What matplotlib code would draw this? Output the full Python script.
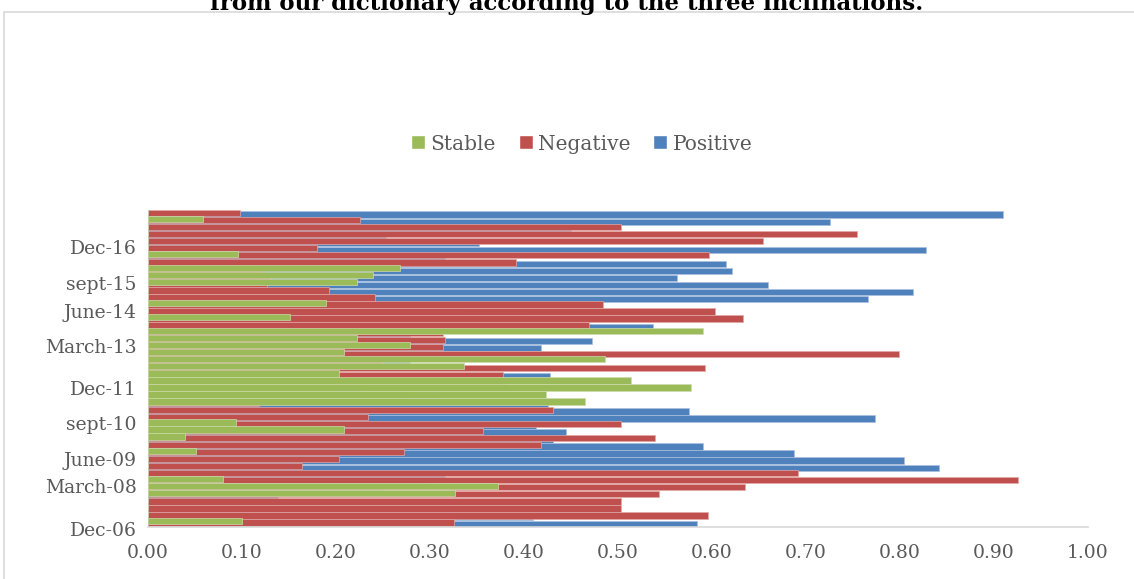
import matplotlib
matplotlib.use("Agg")
import matplotlib.pyplot as plt
import matplotlib.patches as mpatches
from matplotlib.lines import Line2D
import matplotlib.transforms as mtransforms
import numpy as np

plt.rcParams['font.family'] = ['DejaVu Serif']

stable = [0, 0.058, 0, 0, 0, 0, 0.096, 0, 0.268, 0.239,
          0.222, 0, 0, 0.189, 0, 0.151, 0, 0.590, 0.222, 0.279,
          0.209, 0.486, 0.336, 0.203, 0.514, 0.578, 0.423, 0.465, 0, 0,
          0.094, 0.209, 0.039, 0, 0.051, 0, 0, 0, 0.080, 0.372,
          0.327, 0, 0, 0, 0.100]
negative = [0.098, 0.225, 0.503, 0.754, 0.654, 0.180, 0.597, 0.392, 0.122, 0.130,
            0.127, 0.193, 0.241, 0.484, 0.603, 0.633, 0.469, 0.314, 0.316, 0.314,
            0.799, 0.250, 0.593, 0.378, 0.381, 0.200, 0.282, 0.118, 0.431, 0.234,
            0.503, 0.356, 0.539, 0.418, 0.272, 0.203, 0.164, 0.692, 0.925, 0.635,
            0.544, 0.503, 0.503, 0.596, 0.326]
positive = [0.910, 0.726, 0.450, 0.253, 0.352, 0.828, 0.316, 0.615, 0.621, 0.563,
            0.660, 0.814, 0.766, 0.336, 0.404, 0.225, 0.537, 0.279, 0.472, 0.418,
            0.200, 0.279, 0.200, 0.428, 0.200, 0.228, 0.305, 0.426, 0.575, 0.773,
            0.413, 0.445, 0.431, 0.590, 0.687, 0.804, 0.842, 0.316, 0.300, 0.250,
            0.138, 0.500, 0.500, 0.410, 0.584]

# every fifth quarter gets a label, from the bottom up
labels = ["Dec-06", "March-08", "June-09", "sept-10", "Dec-11",
          "March-13", "June-14", "sept-15", "Dec-16"]
label_pos = [-1.2, 4.9, 8.75, 13.9, 18.85, 24.8, 29.8, 33.8, 38.9]

xticks = [0.0, 0.1, 0.2, 0.3, 0.4, 0.5, 0.6, 0.7, 0.8, 0.9, 1.0]

green = "#9BBB59"
red = "#C0504D"
blue = "#4F81BD"

stable = np.array(stable[::-1])
negative = np.array(negative[::-1])
positive = np.array(positive[::-1])
y = np.arange(len(stable))

fig = plt.figure(figsize=(11.34, 5.79), dpi=100)
ax = fig.add_axes([148 / 1134, 52 / 579, 940 / 1134, 317 / 579])

h = 0.9
d = 0.21
ax.barh(y - d, positive, height=h, color=blue, edgecolor="#a9c0de", linewidth=0.5, zorder=1)
ax.barh(y, negative, height=h, color=red, edgecolor="#e2a9a7", linewidth=0.5, zorder=2)
ax.barh(y + d, stable, height=h, color=green, edgecolor="#cddcad", linewidth=0.5, zorder=3)

ax.set_xlim(0, 1.0)
ax.set_ylim(-0.65, 44.45)
ax.set_xticks(xticks)
ax.set_xticklabels(["%.2f" % v for v in xticks], fontsize=13.5, color="#595959")
ax.tick_params(axis="x", length=0, pad=12)
ax.set_yticks([])

trans = mtransforms.blended_transform_factory(ax.transAxes, ax.transData)
for lab, pos in zip(labels, label_pos):
    ax.text(-0.012, pos, lab, transform=trans, ha="right", va="center",
            fontsize=13.5, color="#595959", clip_on=False)

for s in ["top", "right", "left"]:
    ax.spines[s].set_visible(False)
ax.spines["bottom"].set_color("#d9d9d9")
ax.spines["bottom"].set_linewidth(1.2)

# outer chart frame
frame = mpatches.Rectangle((4 / 1134, -0.05), 1.2, 1 - 12 / 579 + 0.05,
                           transform=fig.transFigure, fill=False,
                           edgecolor="#d9d9d9", linewidth=1.2)
fig.patches.append(frame)

# title runs off the top edge of the picture, as in the source
fig.text(0.5, 1 - 10 / 579, "from our dictionary according to the three inclinations.",
         ha="center", va="baseline", fontsize=16.5, fontweight="bold", color="black")

handles = [Line2D([], [], marker="s", linestyle="none", markersize=10,
                  markerfacecolor=c, markeredgecolor="white", markeredgewidth=1.0)
           for c in (green, red, blue)]
fig.legend(handles, ["Stable", "Negative", "Positive"], loc="center",
           bbox_to_anchor=(580 / 1134, 1 - 144 / 579), ncol=3, frameon=False,
           fontsize=14.5, handletextpad=0.1, columnspacing=1.0, handlelength=1.0,
           labelcolor="#595959")

fig.savefig("out.png", dpi=100)
